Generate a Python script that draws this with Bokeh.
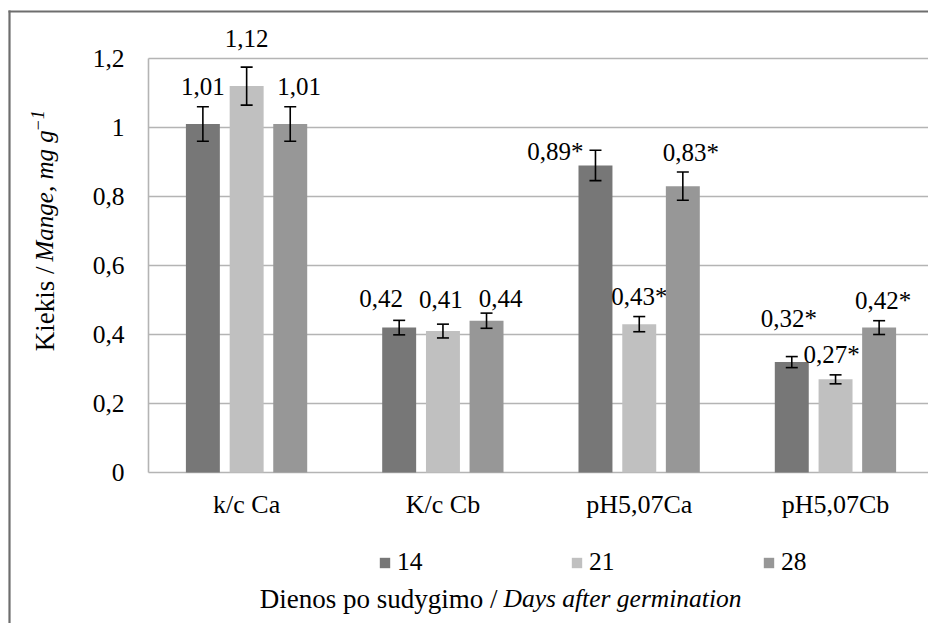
import math
from bokeh.plotting import figure
from bokeh.models import ColumnDataSource, Whisker, TeeHead, Legend, LegendItem
from bokeh.core.properties import value
from bokeh.embed import file_html
from bokeh.resources import INLINE

# ---------------- data ----------------
categories = ["k/c Ca", "K/c Cb", "pH5,07Ca", "pH5,07Cb"]
series_names = ["14", "21", "28"]
values_14 = [1.01, 0.42, 0.89, 0.32]
values_21 = [1.12, 0.41, 0.43, 0.27]
values_28 = [1.01, 0.44, 0.83, 0.42]
errors_14 = [0.050, 0.021, 0.044, 0.016]
errors_21 = [0.055, 0.020, 0.022, 0.013]
errors_28 = [0.050, 0.022, 0.041, 0.020]
signif_14 = [False, False, True, True]
signif_21 = [False, False, True, True]
signif_28 = [False, False, True, True]
y_ticks = [0, 0.2, 0.4, 0.6, 0.8, 1.0, 1.2]
y_tick_labels = ["0", "0,2", "0,4", "0,6", "0,8", "1", "1,2"]
y_title_parts = ["Kiekis /", "Mange, mg g", "\u22121"]
x_title_parts = ["Dienos po sudygimo /", "Days after germination"]

values = [values_14, values_21, values_28]
errors = [errors_14, errors_21, errors_28]
signif = [signif_14, signif_21, signif_28]

# ---------------- style / layout ----------------
colors = ["#777777", "#c0c0c0", "#979797"]
offsets = [-0.223, 0.0, 0.222]
bar_width = 0.173
FONT = "Liberation Serif, Times New Roman, DejaVu Serif, serif"
GRID = "#b4b4b4"
BORDER = "#6e6e6e"
W, H = 928, 623

# plot-area geometry in page pixels
FRAME_L, FRAME_R, FRAME_B = 148, 928, 472
PX_PER_Y = 345.0          # pixels per y unit
PX_PER_X = 196.3          # pixels per category


def dx(px):
    return -0.5 + (px - FRAME_L) / PX_PER_X


def dy(py):
    return (FRAME_B - py) / PX_PER_Y


p = figure(width=W, height=H, output_backend="svg", toolbar_location=None,
           x_range=(dx(0), dx(W)), y_range=(dy(H), dy(0)),
           x_axis_location=None, y_axis_location=None,
           min_border=0, min_border_left=0, min_border_right=0,
           min_border_top=0, min_border_bottom=0)
p.outline_line_color = None
p.grid.visible = False
p.background_fill_color = "white"
p.border_fill_color = "white"

# outer chart border (top and left visible)
p.segment(x0=[dx(9), dx(8)], y0=[dy(H), dy(11)], x1=[dx(9), dx(W)], y1=[dy(10), dy(11)],
          line_color=BORDER, line_width=2.2)

# horizontal gridlines + axis lines
p.segment(x0=[dx(FRAME_L)] * len(y_ticks), y0=y_ticks,
          x1=[dx(FRAME_R)] * len(y_ticks), y1=y_ticks,
          line_color=GRID, line_width=1.6)
p.segment(x0=[dx(FRAME_L)], y0=[y_ticks[0]], x1=[dx(FRAME_L)], y1=[y_ticks[-1]],
          line_color=GRID, line_width=1.6)

# y tick labels
p.text(x=[dx(124)] * len(y_ticks), y=y_ticks, text=y_tick_labels,
       text_align="right", text_baseline="middle",
       text_font=value(FONT), text_font_size=value("25.5px"), text_color="black")

# x tick labels (category names)
p.text(x=list(range(len(categories))), y=[dy(504)] * len(categories), text=categories,
       text_align="center", text_baseline="middle",
       text_font=value(FONT), text_font_size=value("26px"), text_color="black")

# bars, error bars, value labels
# manual label moves as in the reference: (category, series) -> (px right, px down)
label_shift = {(0, 1): (0, -9), (0, 2): (9, 0),
               (1, 0): (-18, -2), (1, 1): (-2, -5), (1, 2): (14, 5),
               (2, 0): (-40, 21), (2, 2): (8, 0),
               (3, 0): (-3, -18), (3, 1): (-4, 0), (3, 2): (4, 0)}
legend_items = []
for s, name in enumerate(series_names):
    xs = [i + offsets[s] for i in range(len(categories))]
    tops = values[s]
    errs = errors[s]
    texts = [("%.2f" % v).replace(".", ",") + ("*" if sg else "")
             for v, sg in zip(tops, signif[s])]
    lx, ly = [], []
    for i in range(len(categories)):
        sx, sy = label_shift.get((i, s), (0, 0))
        lx.append(xs[i] + sx / PX_PER_X)
        ly.append(tops[i] + errs[i] + (20 - sy) / PX_PER_Y)
    src = ColumnDataSource(dict(x=xs, top=tops,
                                upper=[v + e for v, e in zip(tops, errs)],
                                lower=[v - e for v, e in zip(tops, errs)],
                                lx=lx, ly=ly, text=texts))
    r = p.vbar(x="x", top="top", bottom=0, width=bar_width, source=src,
               fill_color=colors[s], line_color=None)
    legend_items.append(LegendItem(label=name, renderers=[r]))
    wk = Whisker(source=src, base="x", upper="upper", lower="lower",
                 line_color="black", line_width=1.6, level="annotation",
                 upper_head=TeeHead(size=12, line_color="black", line_width=1.6),
                 lower_head=TeeHead(size=12, line_color="black", line_width=1.6))
    p.add_layout(wk)
    p.text(x="lx", y="ly", text="text", source=src, text_align="center",
           text_baseline="middle", text_font=value(FONT),
           text_font_size=value("25px"), text_color="black")

legend = Legend(items=legend_items, orientation="horizontal",
                location=(378, H - 577),
                glyph_width=13, glyph_height=13, label_standoff=6,
                label_width=30, spacing=192 - 13 - 6 - 30,
                padding=0, margin=0, border_line_color=None,
                background_fill_alpha=0,
                label_text_font=FONT, label_text_font_size="25.5px",
                label_text_color="black")
p.add_layout(legend, "center")

# y axis title (rotated, mixed styles)
p.text(x=[dx(44)], y=[dy(266)], text=[y_title_parts[0]], angle=math.pi / 2,
       text_align="right", text_baseline="middle",
       text_font=value(FONT), text_font_size=value("27px"), text_color="black")
p.text(x=[dx(44)], y=[dy(261)], text=[y_title_parts[1]], angle=math.pi / 2,
       text_align="left", text_baseline="middle",
       text_font=value(FONT), text_font_style="italic",
       text_font_size=value("25px"), text_color="black")
p.text(x=[dx(37)], y=[dy(131)], text=[y_title_parts[2]], angle=math.pi / 2,
       text_align="left", text_baseline="middle",
       text_font=value(FONT), text_font_style="italic",
       text_font_size=value("18px"), text_color="black")

# x axis title (mixed styles)
p.text(x=[dx(497)], y=[dy(598)], text=[x_title_parts[0]],
       text_align="right", text_baseline="middle",
       text_font=value(FONT), text_font_size=value("27px"), text_color="black")
p.text(x=[dx(503)], y=[dy(598)], text=[x_title_parts[1]],
       text_align="left", text_baseline="middle",
       text_font=value(FONT), text_font_style="italic",
       text_font_size=value("25.5px"), text_color="black")

open("out.html", "w").write(file_html(p, INLINE))
